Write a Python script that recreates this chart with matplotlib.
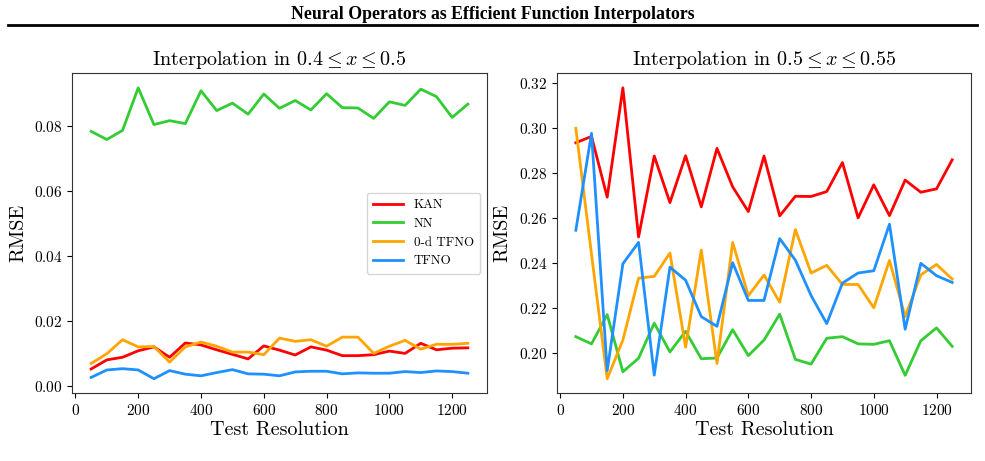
import matplotlib
matplotlib.use("Agg")
import matplotlib.pyplot as plt
from matplotlib.lines import Line2D

plt.rcParams['font.family'] = 'serif'
plt.rcParams['font.serif'] = ['cmr10']
plt.rcParams['mathtext.fontset'] = 'cm'
plt.rcParams['axes.formatter.use_mathtext'] = True

resolution = [50, 100, 150, 200, 250, 300, 350, 400, 450, 500, 550, 600, 650,
              700, 750, 800, 850, 900, 950, 1000, 1050, 1100, 1150, 1200, 1250]

# Left panel: interpolation in 0.4 <= x <= 0.5
left_kan = [0.0051, 0.0079, 0.0087, 0.0107, 0.0119, 0.0087, 0.0131, 0.0125, 0.0110, 0.0096,
            0.0082, 0.0122, 0.0109, 0.0094, 0.0119, 0.0109, 0.0092, 0.0092, 0.0095, 0.0106,
            0.0099, 0.0130, 0.0110, 0.0115, 0.0116]
left_nn = [0.0782, 0.0757, 0.0785, 0.0916, 0.0803, 0.0815, 0.0806, 0.0907, 0.0846, 0.0869,
           0.0835, 0.0897, 0.0853, 0.0877, 0.0848, 0.0898, 0.0855, 0.0854, 0.0822, 0.0873,
           0.0862, 0.0912, 0.0889, 0.0825, 0.0866]
left_tfno0d = [0.0068, 0.0098, 0.0141, 0.0119, 0.0120, 0.0072, 0.0119, 0.0134, 0.0121, 0.0103,
               0.0103, 0.0095, 0.0146, 0.0136, 0.0141, 0.0121, 0.0149, 0.0149, 0.0099, 0.0121,
               0.0139, 0.0112, 0.0127, 0.0127, 0.0130]
left_tfno = [0.0025, 0.0048, 0.0052, 0.0048, 0.0021, 0.0046, 0.0035, 0.0030, 0.0040, 0.0049,
             0.0036, 0.0035, 0.0030, 0.0042, 0.0044, 0.0044, 0.0036, 0.0039, 0.0038, 0.0038,
             0.0043, 0.0040, 0.0045, 0.0043, 0.0038]

# Right panel: interpolation in 0.5 <= x <= 0.55
right_kan = [0.2936, 0.2964, 0.2694, 0.3180, 0.2517, 0.2877, 0.2670, 0.2878, 0.2651, 0.2911,
             0.2740, 0.2630, 0.2877, 0.2611, 0.2698, 0.2697, 0.2719, 0.2848, 0.2602, 0.2749,
             0.2612, 0.2770, 0.2716, 0.2731, 0.2860]
right_nn = [0.2074, 0.2042, 0.2172, 0.1918, 0.1978, 0.2134, 0.2006, 0.2098, 0.1976, 0.1979,
            0.2105, 0.1990, 0.2059, 0.2174, 0.1973, 0.1952, 0.2067, 0.2074, 0.2042, 0.2040,
            0.2056, 0.1902, 0.2056, 0.2113, 0.2031]
right_tfno0d = [0.3000, 0.2440, 0.1887, 0.2059, 0.2334, 0.2342, 0.2446, 0.2027, 0.2459, 0.1955,
                0.2493, 0.2256, 0.2348, 0.2227, 0.2550, 0.2357, 0.2391, 0.2306, 0.2306, 0.2202,
                0.2413, 0.2163, 0.2349, 0.2395, 0.2330]
right_tfno = [0.2547, 0.2978, 0.1923, 0.2398, 0.2493, 0.1903, 0.2383, 0.2325, 0.2163, 0.2120,
              0.2403, 0.2235, 0.2235, 0.2510, 0.2414, 0.2257, 0.2132, 0.2312, 0.2357, 0.2367,
              0.2574, 0.2107, 0.2400, 0.2345, 0.2315]

labels = ["KAN", "NN", "0-d TFNO", "TFNO"]
colors = ["#ff0000", "#33cc33", "#ffa500", "#1e90ff"]

fig = plt.figure(figsize=(9.85, 4.61), dpi=100)
ax1 = fig.add_axes([0.0734, 0.1469, 0.4207, 0.6941])
ax2 = fig.add_axes([0.5655, 0.1469, 0.4203, 0.6941])

for ax, series, title in [
    (ax1, [left_kan, left_nn, left_tfno0d, left_tfno], r"Interpolation in $0.4 \leq x \leq 0.5$"),
    (ax2, [right_kan, right_nn, right_tfno0d, right_tfno], r"Interpolation in $0.5 \leq x \leq 0.55$"),
]:
    for s, lab, c in zip(series, labels, colors):
        ax.plot(resolution, s, color=c, lw=2, label=lab)
    ax.set_title(title, fontsize=14.5)
    ax.set_xlabel("Test Resolution", fontsize=14.5, labelpad=2)
    ax.set_ylabel("RMSE", fontsize=14.5, labelpad=5)
    ax.set_xticks([0, 200, 400, 600, 800, 1000, 1200])
    ax.tick_params(labelsize=11)
    for sp in ax.spines.values():
        sp.set_color("0.2")

ax1.legend(loc="center right", fontsize=9.4, handlelength=2.3, borderpad=0.5)

fig.text(0.5, 0.968, "Neural Operators as Efficient Function Interpolators",
         ha="center", va="center", fontsize=12.8, fontweight="bold",
         family="Liberation Serif")
fig.add_artist(Line2D([0.008, 0.992], [0.946, 0.946], color="black", lw=2,
                      transform=fig.transFigure))

fig.savefig("out.png", dpi=100)
